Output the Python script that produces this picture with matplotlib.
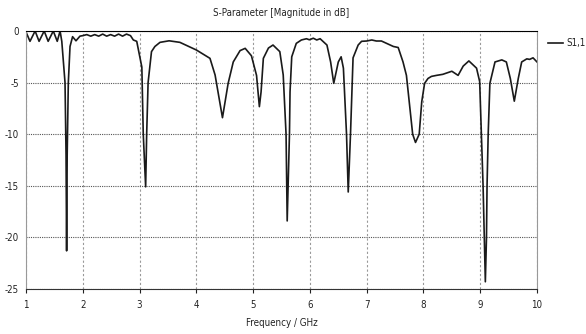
import matplotlib
matplotlib.use("Agg")
import matplotlib.pyplot as plt
from matplotlib import font_manager

# use a condensed face if one is installed, the reference font is narrow
names = {f.name for f in font_manager.fontManager.ttflist}
narrow = [n for n in ["Liberation Sans Narrow", "DejaVu Sans Condensed"] if n in names]
plt.rcParams["font.family"] = narrow + ["DejaVu Sans"]
plt.rcParams["font.stretch"] = "condensed"

# S11 trace (GHz, dB)
freq = [1.00, 1.07, 1.16, 1.23, 1.32, 1.39, 1.48, 1.55, 1.60, 1.63, 1.651, 1.687,
        1.705, 1.715, 1.725, 1.745, 1.775, 1.82, 1.88, 1.95,
        2.00, 2.07, 2.14, 2.21, 2.28, 2.35, 2.42, 2.49, 2.56, 2.63, 2.70, 2.77,
        2.84, 2.89, 2.95, 3.04, 3.065, 3.107, 3.125, 3.15, 3.21, 3.27, 3.36,
        3.52, 3.71, 4.00, 4.24, 4.33, 4.46, 4.56, 4.65, 4.77, 4.86, 4.97, 5.06,
        5.11, 5.14, 5.18, 5.27, 5.35, 5.47, 5.53, 5.58, 5.60, 5.64, 5.65, 5.68,
        5.76, 5.85, 5.94, 5.99, 6.06, 6.12, 6.18, 6.30, 6.365, 6.42, 6.50, 6.55,
        6.59, 6.645, 6.675, 6.715, 6.76, 6.85, 6.91, 7.00, 7.09, 7.17, 7.26,
        7.35, 7.47, 7.555, 7.64, 7.70, 7.81, 7.86, 7.925, 7.97, 8.02, 8.08,
        8.14, 8.23, 8.34, 8.50, 8.61, 8.70, 8.80, 8.935, 8.99, 9.02, 9.05,
        9.09, 9.11, 9.12, 9.14, 9.17, 9.26, 9.38, 9.46, 9.53, 9.60, 9.67,
        9.73, 9.82, 9.87, 9.93, 10.00]
s11 = [-0.1, -1.0, 0.0, -1.0, 0.0, -1.0, 0.0, -1.0, 0.0, -1.0, -2.5, -5.0,
       -12.0, -21.3, -12.0, -5.0, -1.5, -0.55, -0.95, -0.5,
       -0.45, -0.35, -0.5, -0.35, -0.5, -0.3, -0.5, -0.35, -0.5, -0.3, -0.5, -0.3,
       -0.45, -0.87, -1.0, -3.5, -10.0, -15.1, -10.0, -5.0, -2.0, -1.5, -1.1,
       -0.95, -1.1, -1.84, -2.65, -4.26, -8.4, -5.07, -3.0, -1.9, -1.68, -2.4, -4.3,
       -7.33, -5.9, -2.65, -1.65, -1.36, -2.0, -4.26, -10.0, -18.4, -10.0, -5.9, -2.5,
       -1.2, -0.87, -0.75, -0.85, -0.7, -0.87, -0.75, -1.36, -3.0, -5.07, -3.0, -2.5,
       -3.6, -10.0, -15.6, -10.0, -2.6, -1.36, -1.0, -0.97, -0.87, -0.97, -0.97,
       -1.2, -1.5, -1.6, -3.0, -4.3, -10.0, -10.8, -10.0, -6.85, -5.07, -4.6,
       -4.4, -4.3, -4.2, -3.9, -4.3, -3.4, -2.9, -3.6, -4.9, -10.0, -15.0,
       -24.3, -20.0, -15.0, -10.0, -5.07, -3.0, -2.8, -3.0, -4.6, -6.8, -4.6,
       -3.0, -2.7, -2.75, -2.6, -3.0]

x_ticks = list(range(1, 11))
y_ticks = [0, -5, -10, -15, -20, -25]

fig = plt.figure(figsize=(5.86, 3.34), dpi=100)
ax = fig.add_axes([0.0444, 0.1347, 0.872, 0.7725])

ax.plot(freq, s11, color="#1a1a1a", lw=1.2)

ax.set_xlim(1, 10)
ax.set_ylim(-25, 0)
ax.set_xticks(x_ticks)
ax.set_yticks(y_ticks)
ax.set_yticklabels([str(v) for v in y_ticks])

ax.xaxis.grid(True, color="#999999", ls=(0, (2, 2)), lw=0.8)
ax.yaxis.grid(True, color="#555555", ls=(0, (1, 1)), lw=0.8)

for s in ["left", "right"]:
    ax.spines[s].set_color("#999999")
ax.spines["top"].set_color("black")
ax.spines["bottom"].set_color("#333333")

ax.tick_params(axis="both", labelsize=7, length=3, width=0.8, colors="#222222")
ax.tick_params(axis="x", pad=5)
ax.tick_params(axis="y", length=0, pad=5)

ax.set_title("S-Parameter [Magnitude in dB]", fontsize=7, pad=11, color="#222222")
ax.set_xlabel("Frequency / GHz", fontsize=7, labelpad=6, color="#222222")

# legend entry sits outside the plot, to the right
ax.plot([1.021, 1.05], [0.952, 0.952], transform=ax.transAxes, color="#1a1a1a",
        lw=1.2, clip_on=False)
ax.text(1.058, 0.952, "S1,1", transform=ax.transAxes, fontsize=7, va="center",
        ha="left", color="#222222")

fig.savefig("out.png", dpi=100)
